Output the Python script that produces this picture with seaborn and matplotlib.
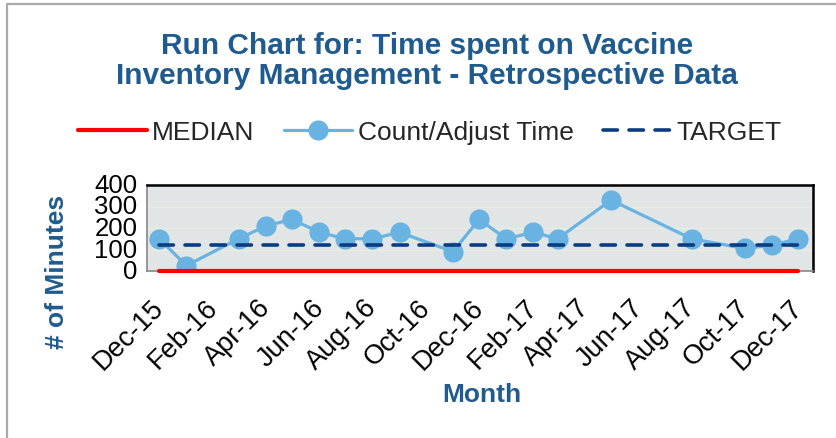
import matplotlib
matplotlib.use('Agg')
import matplotlib.pyplot as plt
import matplotlib.dates as mdates
from matplotlib.lines import Line2D
from matplotlib.transforms import ScaledTranslation
import seaborn as sns
import pandas as pd

# data
months = ['2015-12-15', '2016-01-15', '2016-03-15', '2016-04-15', '2016-05-15',
          '2016-06-15', '2016-07-15', '2016-08-15', '2016-09-15', '2016-11-15',
          '2016-12-15', '2017-01-15', '2017-02-15', '2017-03-15', '2017-05-15',
          '2017-08-15', '2017-10-15', '2017-11-15', '2017-12-15']
count_adjust_time = [150, 25, 150, 210, 240, 180, 150, 150, 180, 90,
                     240, 150, 180, 150, 330, 150, 105, 120, 150]
median_value = 0
target_value = 120
y_ticks = [0, 100, 200, 300, 400]

df = pd.DataFrame({'Month': pd.to_datetime(months), 'Count/Adjust Time': count_adjust_time})
df['MEDIAN'] = median_value
df['TARGET'] = target_value

sns.set_style('white')
plt.rcParams['font.family'] = ['Liberation Sans', 'DejaVu Sans']

title_blue = '#1F5B8E'
light_blue = '#69B3E3'
navy = '#0B3D80'

fig = plt.figure(figsize=(8.36, 4.39), dpi=100)
ax = fig.add_axes([147 / 836, 1 - 272 / 439, (813 - 147) / 836, (272 - 186) / 439])
ax.set_facecolor('#E1E5E5')

sns.lineplot(data=df, x='Month', y='MEDIAN', ax=ax, color='#FF0000', lw=3, label='MEDIAN', zorder=5)
ax.lines[-1].set_clip_on(False)
sns.lineplot(data=df, x='Month', y='Count/Adjust Time', ax=ax, color=light_blue, lw=2.3,
             marker='o', markersize=14.5, markeredgewidth=0, label='Count/Adjust Time', zorder=3)
sns.lineplot(data=df, x='Month', y='TARGET', ax=ax, color=navy, lw=2.6, label='TARGET', zorder=4)
ax.lines[-1].set_dashes((4, 3.2))
ax.lines[-1].set_dash_capstyle('round')

ax.set_ylim(0, 400)
ax.set_yticks(y_ticks)
ax.set_xlim(pd.Timestamp('2015-12-01'), pd.Timestamp('2018-01-01'))
ax.xaxis.set_major_locator(mdates.MonthLocator(bymonth=[2, 4, 6, 8, 10, 12]))
ax.xaxis.set_major_formatter(mdates.DateFormatter('%b-%y'))
ax.grid(axis='y', color='#E6EFE2', lw=0.8)
ax.set_axisbelow(True)

ax.tick_params(axis='both', labelsize=18.5, colors='#888888', labelcolor='black',
               length=6, width=1, direction='out', pad=2)
ax.tick_params(axis='y', pad=1)
ax.tick_params(axis='x', labelsize=19.5, pad=17)
shift = ScaledTranslation(13 / 100, 0, fig.dpi_scale_trans)
for lbl in ax.get_xticklabels():
    lbl.set_rotation(45)
    lbl.set_ha('right')
    lbl.set_va('center')
    lbl.set_rotation_mode('anchor')
    lbl.set_transform(lbl.get_transform() + shift)
for lbl in ax.get_yticklabels():
    lbl.set_va('center')

for side in ['left', 'bottom']:
    ax.spines[side].set_color('#888888')
    ax.spines[side].set_linewidth(1.2)
for side in ['top', 'right']:
    ax.spines[side].set_color('black')
    ax.spines[side].set_linewidth(1.8)

ax.set_xlabel('')
ax.set_ylabel('')
fig.text(57 / 836, 1 - 272 / 439, '# of Minutes', rotation=90, ha='center', va='center',
         fontsize=19, fontweight='bold', color=title_blue)
fig.text(482 / 836, 1 - 395 / 439, 'Month', ha='center', va='center',
         fontsize=19, fontweight='bold', color=title_blue)
fig.text(427 / 836, 1 - 61 / 439, 'Run Chart for: Time spent on Vaccine\nInventory Management - Retrospective Data',
         ha='center', va='center', fontsize=21.5, fontweight='bold', color=title_blue, linespacing=1.05)

ax.legend(loc='center', bbox_to_anchor=(430 / 836, 1 - 133 / 439), bbox_transform=fig.transFigure,
          ncol=3, frameon=False, fontsize=19, handlelength=2.6, handletextpad=0.2,
          columnspacing=1.1, borderaxespad=0)

# outer frame of the chart area
fig.add_artist(Line2D([6.5 / 836, 6.5 / 836], [0, 1 - 4.5 / 439], color='#AAAAAA', lw=1.6,
                      transform=fig.transFigure))
fig.add_artist(Line2D([6.5 / 836, 1], [1 - 4.5 / 439, 1 - 4.5 / 439], color='#AAAAAA', lw=1.6,
                      transform=fig.transFigure))

fig.savefig('out.png', dpi=100)
